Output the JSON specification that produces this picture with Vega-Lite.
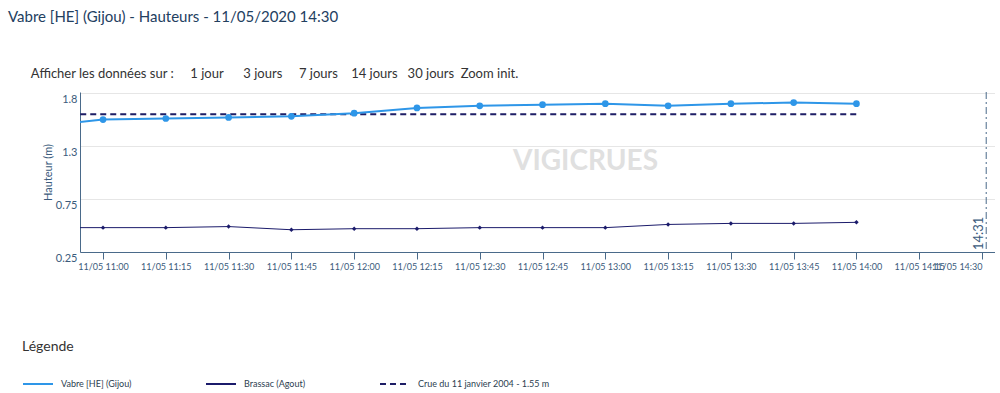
{
  "$schema": "https://vega.github.io/schema/vega-lite/v6.json",
  "background": "white",
  "padding": {"left": 8, "top": 9, "right": 0, "bottom": 0},
  "config": {
    "font": "Lato",
    "view": {"stroke": null},
    "axis": {"labelFont": "Lato", "titleFont": "Lato"},
    "legend": {"labelFont": "Lato", "titleFont": "Lato"},
    "text": {"font": "Lato"}
  },
  "title": {
    "text": "Vabre [HE] (Gijou) - Hauteurs - 11/05/2020 14:30",
    "subtitle": "\u200b\u00a0\u00a0\u00a0\u00a0\u00a0\u00a0\u00a0Afficher les données sur :\u00a0\u00a0\u00a0\u00a0 1 jour\u00a0\u00a0\u00a0\u00a0\u00a0 3 jours\u00a0\u00a0\u00a0\u00a0 7 jours\u00a0\u00a0\u00a0 14 jours\u00a0\u00a0 30 jours\u00a0 Zoom init.",
    "anchor": "start", "frame": "group", "dx": -72,
    "fontSize": 15, "fontWeight": "normal", "color": "#23405f",
    "subtitleFontSize": 13, "subtitleColor": "#333333", "subtitlePadding": 43,
    "offset": 11
  },
  "datasets": {
    "levels": [
      {"series": "Vabre [HE] (Gijou)", "t": "2020-05-11T10:45:00", "v": 1.44},
      {"series": "Vabre [HE] (Gijou)", "t": "2020-05-11T11:00:00", "v": 1.50},
      {"series": "Vabre [HE] (Gijou)", "t": "2020-05-11T11:15:00", "v": 1.51},
      {"series": "Vabre [HE] (Gijou)", "t": "2020-05-11T11:30:00", "v": 1.52},
      {"series": "Vabre [HE] (Gijou)", "t": "2020-05-11T11:45:00", "v": 1.53},
      {"series": "Vabre [HE] (Gijou)", "t": "2020-05-11T12:00:00", "v": 1.56},
      {"series": "Vabre [HE] (Gijou)", "t": "2020-05-11T12:15:00", "v": 1.61},
      {"series": "Vabre [HE] (Gijou)", "t": "2020-05-11T12:30:00", "v": 1.63},
      {"series": "Vabre [HE] (Gijou)", "t": "2020-05-11T12:45:00", "v": 1.64},
      {"series": "Vabre [HE] (Gijou)", "t": "2020-05-11T13:00:00", "v": 1.65},
      {"series": "Vabre [HE] (Gijou)", "t": "2020-05-11T13:15:00", "v": 1.63},
      {"series": "Vabre [HE] (Gijou)", "t": "2020-05-11T13:30:00", "v": 1.65},
      {"series": "Vabre [HE] (Gijou)", "t": "2020-05-11T13:45:00", "v": 1.66},
      {"series": "Vabre [HE] (Gijou)", "t": "2020-05-11T14:00:00", "v": 1.65},
      {"series": "Brassac (Agout)", "t": "2020-05-11T10:45:00", "v": 0.48},
      {"series": "Brassac (Agout)", "t": "2020-05-11T11:00:00", "v": 0.48},
      {"series": "Brassac (Agout)", "t": "2020-05-11T11:15:00", "v": 0.48},
      {"series": "Brassac (Agout)", "t": "2020-05-11T11:30:00", "v": 0.49},
      {"series": "Brassac (Agout)", "t": "2020-05-11T11:45:00", "v": 0.46},
      {"series": "Brassac (Agout)", "t": "2020-05-11T12:00:00", "v": 0.47},
      {"series": "Brassac (Agout)", "t": "2020-05-11T12:15:00", "v": 0.47},
      {"series": "Brassac (Agout)", "t": "2020-05-11T12:30:00", "v": 0.48},
      {"series": "Brassac (Agout)", "t": "2020-05-11T12:45:00", "v": 0.48},
      {"series": "Brassac (Agout)", "t": "2020-05-11T13:00:00", "v": 0.48},
      {"series": "Brassac (Agout)", "t": "2020-05-11T13:15:00", "v": 0.51},
      {"series": "Brassac (Agout)", "t": "2020-05-11T13:30:00", "v": 0.52},
      {"series": "Brassac (Agout)", "t": "2020-05-11T13:45:00", "v": 0.52},
      {"series": "Brassac (Agout)", "t": "2020-05-11T14:00:00", "v": 0.53},
      {"series": "Crue du 11 janvier 2004 - 1.55 m", "t": "2020-05-11T10:45:00", "v": 1.55},
      {"series": "Crue du 11 janvier 2004 - 1.55 m", "t": "2020-05-11T14:00:00", "v": 1.55},
      {"series": "now", "t": "2020-05-11T14:31:00", "label": "14:31"},
      {"series": "watermark", "label": "VIGICRUES"}
    ]
  },
  "width": 915,
  "height": 160,
  "data": {"name": "levels"},
  "layer": [
    {
      "transform": [{"filter": "datum.series === 'watermark'"}],
      "mark": {"type": "text", "fontSize": 28, "fontWeight": "bold", "color": "#e0e0e0", "align": "center", "baseline": "middle", "dx": 48, "dy": -10},
      "encoding": {"text": {"field": "label"}}
    },
    {
      "transform": [{"filter": "datum.series === 'Crue du 11 janvier 2004 - 1.55 m'"}],
      "mark": {"type": "line", "strokeWidth": 2, "clip": true},
      "encoding": {
        "x": {
          "field": "t", "type": "temporal",
          "scale": {"domain": [{"year": 2020, "month": 5, "date": 11, "hours": 10, "minutes": 54, "seconds": 30}, {"year": 2020, "month": 5, "date": 11, "hours": 14, "minutes": 33, "seconds": 6}]},
          "axis": {
            "title": null, "grid": false,
            "values": [
              {"year": 2020, "month": 5, "date": 11, "hours": 11, "minutes": 0},
              {"year": 2020, "month": 5, "date": 11, "hours": 11, "minutes": 15},
              {"year": 2020, "month": 5, "date": 11, "hours": 11, "minutes": 30},
              {"year": 2020, "month": 5, "date": 11, "hours": 11, "minutes": 45},
              {"year": 2020, "month": 5, "date": 11, "hours": 12, "minutes": 0},
              {"year": 2020, "month": 5, "date": 11, "hours": 12, "minutes": 15},
              {"year": 2020, "month": 5, "date": 11, "hours": 12, "minutes": 30},
              {"year": 2020, "month": 5, "date": 11, "hours": 12, "minutes": 45},
              {"year": 2020, "month": 5, "date": 11, "hours": 13, "minutes": 0},
              {"year": 2020, "month": 5, "date": 11, "hours": 13, "minutes": 15},
              {"year": 2020, "month": 5, "date": 11, "hours": 13, "minutes": 30},
              {"year": 2020, "month": 5, "date": 11, "hours": 13, "minutes": 45},
              {"year": 2020, "month": 5, "date": 11, "hours": 14, "minutes": 0},
              {"year": 2020, "month": 5, "date": 11, "hours": 14, "minutes": 15},
              {"year": 2020, "month": 5, "date": 11, "hours": 14, "minutes": 30}
            ],
            "format": "%d/%m %H:%M",
            "labelFontSize": 9, "labelColor": "#3b5b7c", "labelPadding": 3,
            "labelFlush": 15, "labelOverlap": false,
            "tickSize": 7, "tickColor": "#4a6a8a", "domainColor": "#4a6a8a"
          }
        },
        "y": {
          "field": "v", "type": "quantitative",
          "scale": {"domain": [0.25, 1.76], "nice": false, "zero": false},
          "axis": {
            "values": [0.25, 0.5, 0.75, 1, 1.25, 1.5, 1.75], "format": "~g",
            "title": "Hauteur (m)", "titleFontSize": 11, "titleFontWeight": "normal", "titleColor": "#3b5b7c", "titlePadding": 2,
            "labelFontSize": 11, "labelColor": "#3b5b7c", "labelPadding": 3, "labelOffset": 6,
            "ticks": false, "domainColor": "#4a6a8a", "gridColor": "#e6e6e6"
          }
        },
        "color": {
          "field": "series", "type": "nominal",
          "scale": {"domain": ["Vabre [HE] (Gijou)", "Brassac (Agout)", "Crue du 11 janvier 2004 - 1.55 m"], "range": ["#2e96e8", "#1b1b6b", "#1e1e66"]},
          "legend": {
            "title": "Légende", "orient": "none", "legendX": -58, "legendY": 248, "direction": "horizontal",
            "titleFontSize": 14, "titleFontWeight": "normal", "titleColor": "#333333", "titlePadding": 14,
            "symbolType": "stroke", "symbolSize": 900, "symbolStrokeWidth": 2,
            "labelFontSize": 9, "labelColor": "#2c3e50", "labelOffset": 7, "columnPadding": 70
          }
        },
        "strokeDash": {
          "field": "series", "type": "nominal",
          "scale": {"domain": ["Vabre [HE] (Gijou)", "Brassac (Agout)", "Crue du 11 janvier 2004 - 1.55 m"], "range": [[1, 0], [1, 0], [6, 4]]},
          "legend": {
            "title": "Légende", "orient": "none", "legendX": -58, "legendY": 248, "direction": "horizontal",
            "titleFontSize": 14, "titleFontWeight": "normal", "titleColor": "#333333", "titlePadding": 14,
            "symbolType": "stroke", "symbolSize": 900, "symbolStrokeWidth": 2,
            "labelFontSize": 9, "labelColor": "#2c3e50", "labelOffset": 7, "columnPadding": 70
          }
        }
      }
    },
    {
      "transform": [{"filter": "datum.series === 'Brassac (Agout)'"}],
      "mark": {"type": "line", "strokeWidth": 1, "clip": true},
      "encoding": {
        "x": {"field": "t", "type": "temporal"},
        "y": {"field": "v", "type": "quantitative"},
        "color": {"field": "series", "type": "nominal"}
      }
    },
    {
      "transform": [{"filter": "datum.series === 'Brassac (Agout)'"}],
      "mark": {"type": "point", "shape": "diamond", "filled": true, "opacity": 1, "color": "#1b1b6b", "size": 20, "clip": true},
      "encoding": {
        "x": {"field": "t", "type": "temporal"},
        "y": {"field": "v", "type": "quantitative"}
      }
    },
    {
      "transform": [{"filter": "datum.series === 'Vabre [HE] (Gijou)'"}],
      "mark": {"type": "line", "strokeWidth": 2, "clip": true},
      "encoding": {
        "x": {"field": "t", "type": "temporal"},
        "y": {"field": "v", "type": "quantitative"},
        "color": {"field": "series", "type": "nominal"}
      }
    },
    {
      "transform": [{"filter": "datum.series === 'Vabre [HE] (Gijou)'"}],
      "mark": {"type": "point", "shape": "circle", "filled": true, "opacity": 1, "color": "#2e96e8", "size": 45, "clip": true},
      "encoding": {
        "x": {"field": "t", "type": "temporal"},
        "y": {"field": "v", "type": "quantitative"}
      }
    },
    {
      "transform": [{"filter": "datum.series === 'now'"}],
      "mark": {"type": "rule", "color": "#4a6a8a", "strokeWidth": 1, "strokeDash": [7, 3, 2, 3]},
      "encoding": {"x": {"field": "t", "type": "temporal"}}
    },
    {
      "transform": [{"filter": "datum.series === 'now'"}],
      "mark": {"type": "text", "angle": 270, "align": "left", "baseline": "bottom", "fontSize": 13, "color": "#3b5b7c", "dx": -78},
      "encoding": {"x": {"field": "t", "type": "temporal"}, "text": {"field": "label"}}
    }
  ]
}
